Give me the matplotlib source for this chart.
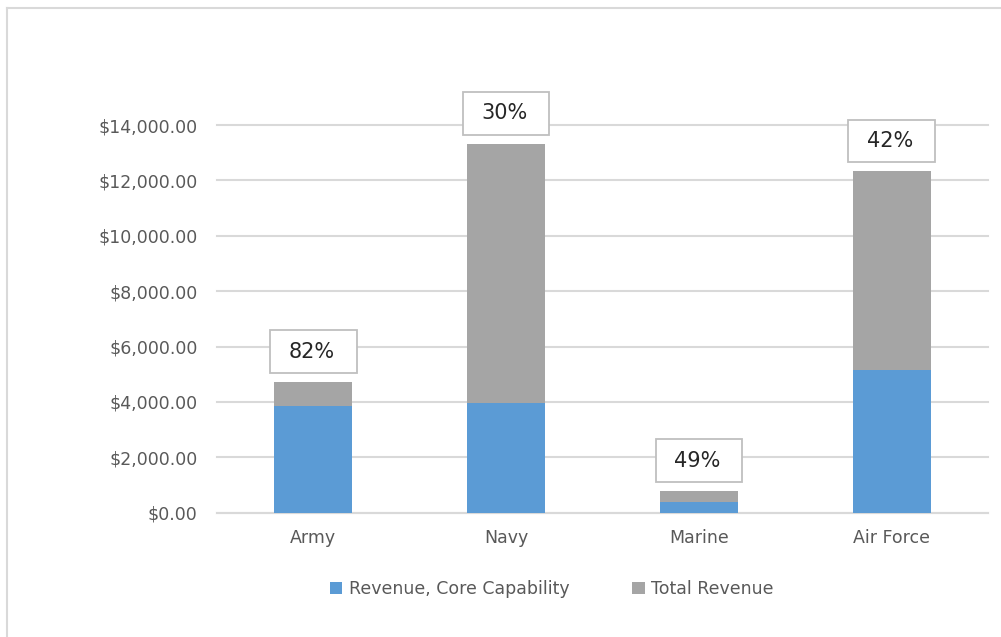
import matplotlib
matplotlib.use("Agg")
import matplotlib.pyplot as plt
from matplotlib.patches import Rectangle
from matplotlib.lines import Line2D
from matplotlib.ticker import FuncFormatter

# revenue by service, dollars (core capability is a subset of total)
services = ["Army", "Navy", "Marine", "Air Force"]
total_rev = [4720, 13320, 785, 12330]
core_rev = [3860, 3960, 385, 5170]

BLUE = "#5b9bd5"
GREY = "#a5a5a5"
GRID = "#d9d9d9"
TXT = "#595959"

fig = plt.figure(figsize=(10.01, 6.37), dpi=100)
ax = fig.add_axes([0.2168, 0.1951, 0.7702, 0.6086])

x = range(len(services))
w = 0.405
# bars overlap fully: total behind, core in front
ax.bar(x, total_rev, width=w, color=GREY, label="Total Revenue", zorder=2)
ax.bar(x, core_rev, width=w, color=BLUE, label="Revenue, Core Capability", zorder=3)

# share-of-total callouts in boxes above each bar
for i, (t, c) in enumerate(zip(total_rev, core_rev)):
    pct = round(100 * c / t)
    y0 = t + 330
    ax.add_patch(Rectangle((i - 0.225, y0), 0.45, 1540, facecolor="white",
                           edgecolor="#bfbfbf", lw=1.3, zorder=4, clip_on=False))
    ax.text(i - 0.01, y0 + 770, f"{pct}%", ha="center", va="center",
            fontsize=15, color="#262626", zorder=5, clip_on=False)

ax.set_xlim(-0.5, len(services) - 0.5)
ax.set_ylim(0, 14000)
ax.set_yticks(range(0, 14001, 2000))
ax.yaxis.set_major_formatter(FuncFormatter(lambda v, _: f"${v:,.2f}"))
ax.set_xticks(list(x))
ax.set_xticklabels(services)
ax.tick_params(axis="both", length=0, labelsize=12.5, labelcolor=TXT)
ax.tick_params(axis="y", pad=14)
ax.tick_params(axis="x", pad=12)
ax.grid(axis="y", color=GRID, lw=1.5, zorder=0)
for gl in ax.get_ygridlines():
    gl.set_clip_on(False)
for side in ["top", "right", "left"]:
    ax.spines[side].set_visible(False)
ax.spines["bottom"].set_color(GRID)
ax.spines["bottom"].set_linewidth(1.5)

h, l = ax.get_legend_handles_labels()
fig.legend(h[::-1], l[::-1], loc="center", bbox_to_anchor=(0.5515, 1 - 589 / 637),
           ncol=2, frameon=False, fontsize=12.5, labelcolor=TXT,
           handlelength=0.7, handleheight=0.7, handletextpad=0.4, columnspacing=3.6)

# chart frame (only top and left edges fall inside the canvas)
fig.add_artist(Line2D([7 / 1001, 7 / 1001], [0, 1 - 8 / 637], color=GRID, lw=1.5))
fig.add_artist(Line2D([7 / 1001, 1], [1 - 8 / 637, 1 - 8 / 637], color=GRID, lw=1.5))

fig.savefig("out.png", dpi=100)
